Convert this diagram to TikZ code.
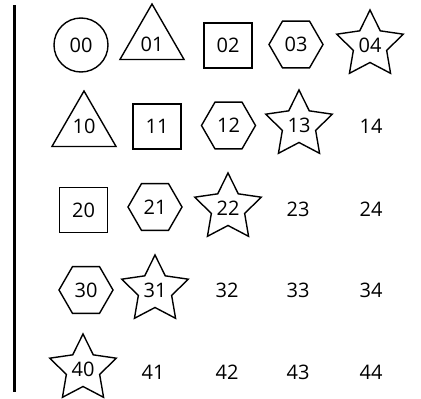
\documentclass[tikz,border=0pt]{standalone}
\usepackage{fontspec}
\setmainfont{Open Sans}
\usetikzlibrary{shapes.geometric}
\tikzset{
  lbl/.style={inner sep=0pt, font=\fontsize{20}{20}\selectfont},
  shp/.style={lbl, draw, line width=1.4pt},
  circ/.style={shp, circle, minimum size=54pt},
  tri/.style={shp, regular polygon, regular polygon sides=3, minimum size=74pt},
  sq/.style={shp, rectangle, minimum width=48pt, minimum height=45pt},
  hexa/.style={shp, regular polygon, regular polygon sides=6, minimum size=54pt},
  starx/.style={shp, star, star points=5, star point ratio=2, minimum size=70pt},
  bar/.style={line width=3pt}
}
\begin{document}
\begin{tikzpicture}[x=1pt,y=-1pt]
\useasboundingbox (0,0) rectangle (421,399);
\coordinate (top) at (14,5);
\coordinate (bot) at (14,392);
\draw[bar] (top) -- (bot);
% row 0
\node[circ]  (n00) at (81,45)   {00};
\node[tri, label={[lbl,yshift=-3pt]center:01}] (n01) at (152,41) {};
\node[sq]    (n02) at (228,45.5){02};
\node[hexa]  (n03) at (296,44.5){03};
\node[starx] (n04) at (370,45)  {04};
% row 1
\node[tri, label={[lbl,yshift=2pt]center:10}] (n10) at (84,128) {};
\node[sq]    (n11) at (157,126.5){11};
\node[hexa]  (n12) at (228.5,125.5){12};
\node[starx] (n13) at (299,125) {13};
\node[lbl]   (n14) at (371,126) {14};
% row 2
\node[sq]    (n20) at (83.5,210){20};
\node[hexa]  (n21) at (155,207) {21};
\node[starx] (n22) at (228,208) {22};
\node[lbl]   (n23) at (298,209) {23};
\node[lbl]   (n24) at (371,209) {24};
% row 3
\node[hexa]  (n30) at (86,290)  {30};
\node[starx] (n31) at (155,290) {31};
\node[lbl]   (n32) at (227,290) {32};
\node[lbl]   (n33) at (298,290) {33};
\node[lbl]   (n34) at (371,290) {34};
% row 4
\node[starx] (n40) at (83,369)  {40};
\node[lbl]   (n41) at (153,372) {41};
\node[lbl]   (n42) at (227,372) {42};
\node[lbl]   (n43) at (298,372) {43};
\node[lbl]   (n44) at (371,372) {44};
\end{tikzpicture}
\end{document}
